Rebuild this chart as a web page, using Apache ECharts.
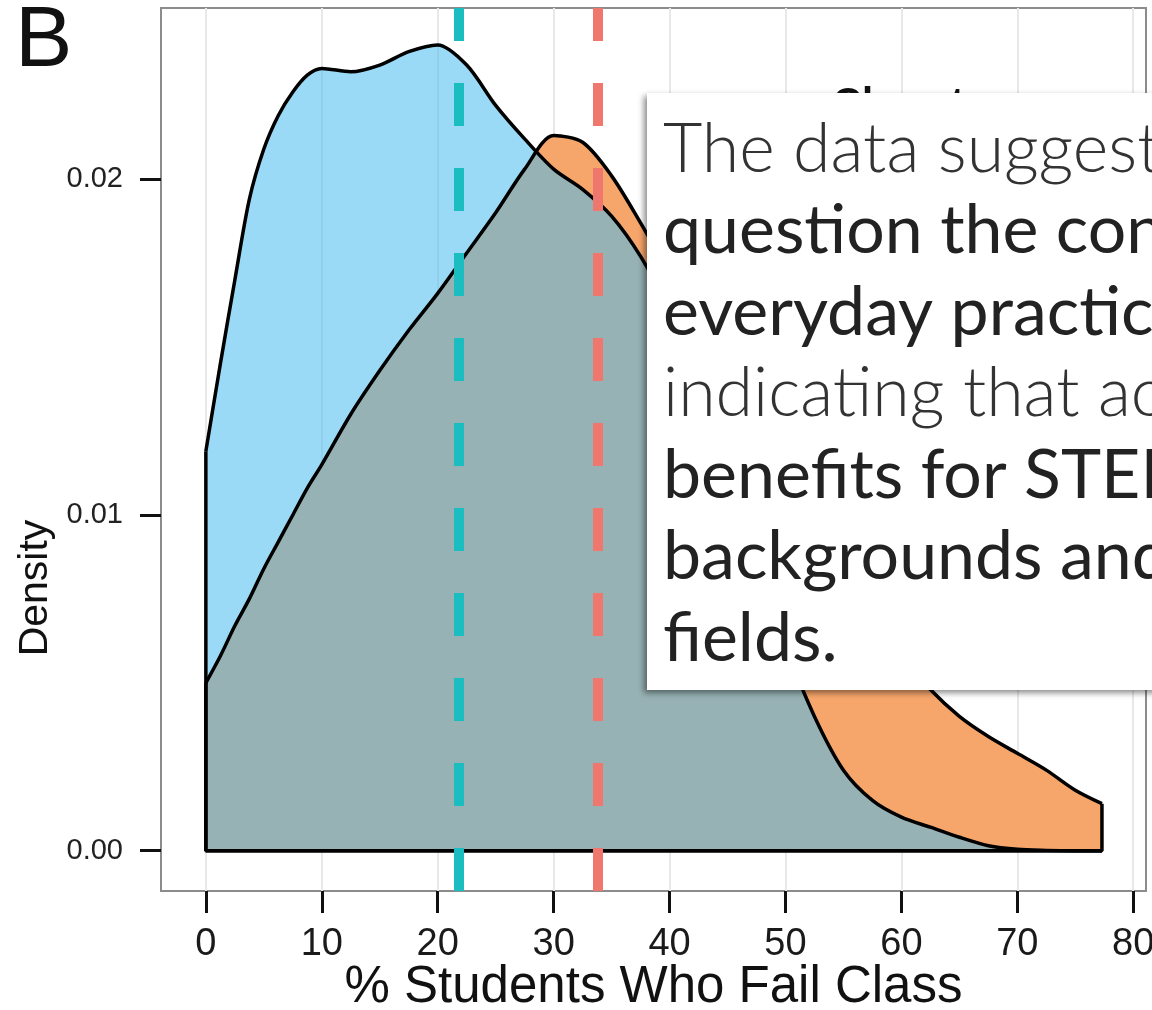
<!DOCTYPE html>
<html>
<head>
<meta charset="UTF-8">
<title>% Students Who Fail Class</title>
<script src="https://cdn.jsdelivr.net/npm/echarts@6/dist/echarts.min.js"></script>
<style>
  html, body { margin: 0; padding: 0; background: #fff; }
  #chart { width: 1152px; height: 1010px; }
</style>
</head>
<body>
<div id="chart"></div>
<script>
// points where the two density curves were read (x = % students who fail)
var failPct = [0, 1.25, 2.5, 3.75, 5, 6.25, 7.5, 8.75, 10, 12.5, 15, 17.5, 20, 22.5, 25, 27.5, 30, 32.5, 35, 37.5,
               40, 42.5, 45, 47.5, 50, 52.5, 55, 57.5, 60, 62.5, 65, 67.5, 70, 72.5, 75, 77.3];
// blue curve (active learning)
var activeDensity = [0.0119, 0.0145, 0.0170, 0.0194, 0.0209, 0.0219, 0.0226, 0.0231, 0.0233, 0.0232, 0.0234, 0.0238,
                     0.0240, 0.0234, 0.0222, 0.0212, 0.0203, 0.0197, 0.0189, 0.0177, 0.0161, 0.0139, 0.0113, 0.0086,
                     0.0061, 0.0040, 0.0024, 0.0015, 0.0010, 0.0007, 0.0004, 0.00015, 0.00004, 0.00001, 0, 0];
// orange curve (traditional lecturing)
var lectureDensity = [0.0050, 0.0058, 0.0067, 0.0075, 0.0084, 0.0092, 0.0100, 0.0108, 0.0115, 0.0130, 0.0143, 0.0155,
                      0.0166, 0.0178, 0.0190, 0.0203, 0.0213, 0.0211, 0.0201, 0.0187, 0.0172, 0.0158, 0.0143, 0.0128,
                      0.0112, 0.0097, 0.0083, 0.0070, 0.0058, 0.0048, 0.0040, 0.0034, 0.0029, 0.0024, 0.0018, 0.0014];

var activeMean = 21.8;
var lectureMean = 33.8;
var arrowLevel = 0.01;

var xTicks = [0, 10, 20, 30, 40, 50, 60, 70, 80];
var yTicks = [0, 0.01, 0.02];
var xRange = [-3.87, 81.1];
var yRange = [-0.0012, 0.0251];

var noteLines = ['The data suggest', 'question the con', 'everyday practice', 'indicating that ac',
                 'benefits for STEM', 'backgrounds and', 'fields.'];
var noteBold = [false, true, true, false, true, true, true];

function pairs(xs, ys) {
    return xs.map(function (x, i) { return [x, ys[i]]; });
}

var xEnd = failPct[failPct.length - 1];
var chart = echarts.init(document.getElementById('chart'));

var noteGraphics = [
    {
        type: 'text', left: 833, top: 85, z: 50,
        style: { text: 'Class type', fontSize: 40, fontWeight: 'bold', fontFamily: 'Liberation Sans', fill: '#111' }
    },
    {
        type: 'rect', left: 647, top: 93, z: 60,
        shape: { width: 520, height: 597 },
        style: { fill: '#fff', shadowColor: 'rgba(0,0,0,0.45)', shadowBlur: 6, shadowOffsetX: -3, shadowOffsetY: 3 }
    },
    {
        type: 'text', left: 15, top: -1, z: 60,
        style: { text: 'B', fontSize: 86, fontFamily: 'Liberation Sans', fill: '#111' }
    },
    {
        type: 'text', x: 36, y: 588, rotation: Math.PI / 2, z: 60,
        style: { text: 'Density', fontSize: 41, fontFamily: 'Liberation Sans', fill: '#111', align: 'center', verticalAlign: 'middle' }
    }
];
noteLines.forEach(function (line, i) {
    noteGraphics.push({
        type: 'text', left: 663, top: 116 + i * 81.5, z: 61,
        style: {
            text: line, fontSize: 68, fontFamily: 'Lato',
            fontWeight: noteBold[i] ? 'normal' : 300,
            fill: noteBold[i] ? '#222' : '#333'
        }
    });
});

var option = {
    animation: false,
    grid: {
        left: 161, right: 6, top: 8, bottom: 119,
        outerBoundsMode: 'none',
        show: true, backgroundColor: '#fff', borderColor: '#8c8c8c', borderWidth: 2
    },
    xAxis: {
        type: 'value', min: xRange[0], max: xRange[1],
        axisLine: { show: false, onZero: false },
        axisTick: { show: true, customValues: xTicks, length: 22, lineStyle: { color: '#111', width: 3 } },
        axisLabel: { customValues: xTicks, fontSize: 38, color: '#1a1a1a', margin: 35, fontFamily: 'Liberation Sans' },
        splitLine: { show: true, lineStyle: { color: '#e8e8e8', width: 2 } },
        name: '% Students Who Fail Class', nameLocation: 'middle', nameGap: 71, nameMoveOverlap: false,
        nameTextStyle: { fontSize: 51, color: '#111', fontFamily: 'Liberation Sans' }
    },
    yAxis: {
        type: 'value', min: yRange[0], max: yRange[1],
        axisLine: { show: false, onZero: false },
        axisTick: { show: true, customValues: yTicks, length: 21, lineStyle: { color: '#111', width: 3 } },
        axisLabel: {
            customValues: yTicks, fontSize: 29, color: '#222', margin: 38, fontFamily: 'Liberation Sans',
            formatter: function (v) { return v.toFixed(2); }
        },
        splitLine: { show: false }
    },
    graphic: noteGraphics,
    series: [
        {
            name: 'Lecture', type: 'line', smooth: 0.3, showSymbol: false,
            data: pairs(failPct, lectureDensity),
            lineStyle: { color: '#000', width: 3.5 },
            areaStyle: { color: '#F7A66B', opacity: 1 }
        },
        {
            name: 'Lecture edges', type: 'line', showSymbol: false,
            data: [[0, lectureDensity[0]], [0, 0], [xEnd, 0], [xEnd, lectureDensity[lectureDensity.length - 1]]],
            lineStyle: { color: '#000', width: 3.5 }
        },
        {
            name: 'Active', type: 'line', smooth: 0.3, showSymbol: false,
            data: pairs(failPct, activeDensity),
            lineStyle: { color: '#000', width: 3.5 },
            areaStyle: { color: '#48BCF0', opacity: 0.55 }
        },
        {
            name: 'Active edges', type: 'line', showSymbol: false,
            data: [[0, activeDensity[0]], [0, 0], [xEnd, 0]],
            lineStyle: { color: '#000', width: 3.5 }
        },
        {
            name: 'Means', type: 'line', data: [],
            markLine: {
                silent: true, symbol: 'none', label: { show: false },
                data: [
                    [{ coord: [activeMean, yRange[0]], lineStyle: { color: '#1BBDC1' } },
                     { coord: [activeMean, yRange[1]] }],
                    [{ coord: [lectureMean, yRange[0]], lineStyle: { color: '#F0776D' } },
                     { coord: [lectureMean, yRange[1]] }]
                ],
                lineStyle: { width: 10, type: [43, 42], opacity: 1 }
            }
        },
        {
            name: 'Shift', type: 'custom',
            data: [[lectureMean, activeMean, arrowLevel]],
            encode: { x: [0, 1], y: 2 },
            renderItem: function (params, api) {
                var from = api.coord([api.value(0), api.value(2)]);
                var to = api.coord([api.value(1), api.value(2)]);
                var headLen = 35, headHalf = 20;
                return {
                    type: 'group',
                    children: [
                        {
                            type: 'line',
                            shape: { x1: from[0], y1: from[1], x2: to[0] + headLen - 2, y2: to[1] },
                            style: { stroke: '#000', lineWidth: 5 }
                        },
                        {
                            type: 'polygon',
                            shape: { points: [[to[0], to[1]], [to[0] + headLen, to[1] - headHalf], [to[0] + headLen, to[1] + headHalf]] },
                            style: { fill: '#000' }
                        }
                    ]
                };
            }
        }
    ]
};
chart.setOption(option);
</script>
</body>
</html>
